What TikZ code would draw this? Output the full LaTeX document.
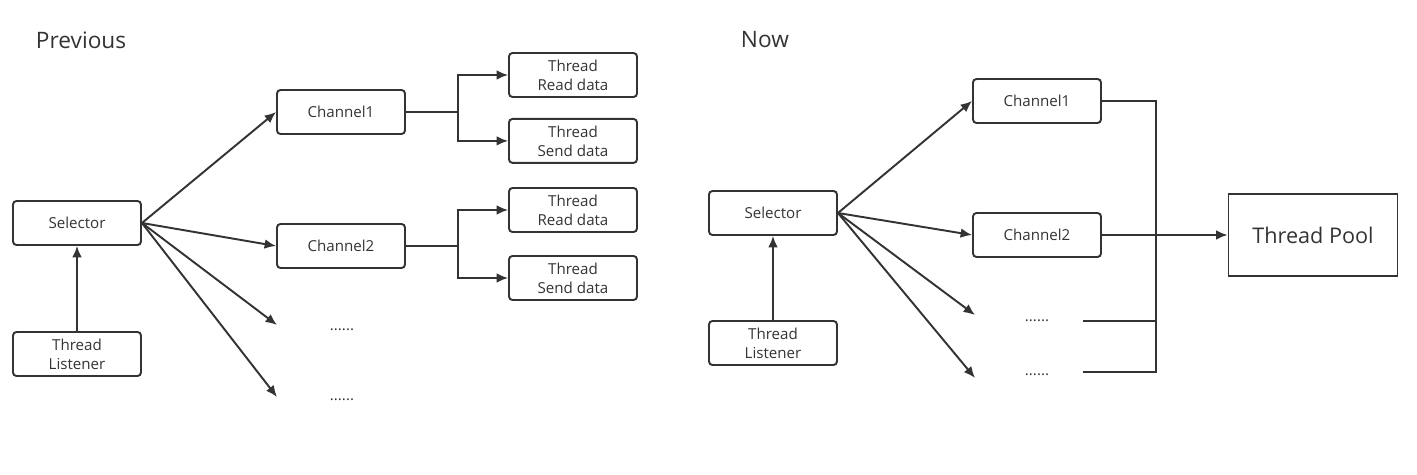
\documentclass[tikz,border=0pt]{standalone}
\usepackage{fontspec}
\setmainfont{Open Sans}
\usetikzlibrary{positioning,arrows.meta}
\definecolor{linegray}{HTML}{333333}

\begin{document}
\begin{tikzpicture}[x=0.02cm ,y=-0.02cm ,-{Latex[length=6.5pt,width=5.5pt]} ,line width=1.1pt ,
draw=linegray ,text=linegray ,
box/.style ={ rectangle ,rounded corners=2pt ,draw ,align=center ,
minimum width =2.56cm ,minimum height =0.88cm ,inner sep=0pt ,
font=\fontsize{8.6}{10.8}\selectfont},
dots/.style ={font=\fontsize{8.6}{10.8}\selectfont},
title/.style ={anchor=west ,inner sep=0pt ,font=\fontsize{12.9}{15}\selectfont}]
\useasboundingbox (0,0) rectangle (1417,475);

% previous
\node[title] (prev) at (35,40) {Previous};
\node[box] (sel1) at (77,223) {Selector};
\node[box] (lis1) at (77,354) {Thread\\Listener};
\node[box] (ch1) at (341,112) {Channel1};
\node[box] (ch2) at (341,246) {Channel2};
\node[dots] (dt1) at (342,330) {......};
\node[dots] (dt2) at (342,400) {......};
\coordinate (e1) at (277,325);
\coordinate (e2) at (277,397);
\node[box] (rd1) at (573,75) {Thread\\Read data};
\node[box] (sd1) [below = 0.4cm of rd1] {Thread\\Send data};
\node[box] (rd2) at (573,210) {Thread\\Read data};
\node[box] (sd2) at (573,278) {Thread\\Send data};
\draw (lis1) -- (sel1);
\draw (sel1.east) -- (ch1.west);
\draw (sel1.east) -- (ch2.west);
\draw (sel1.east) -- (e1);
\draw (sel1.east) -- (e2);
\draw[-] (ch1.east) -- (458,112) coordinate (b1);
\draw (b1) |- (rd1.west);
\draw (b1) |- (sd1.west);
\draw[-] (ch2.east) -- (458,246) coordinate (b2);
\draw (b2) |- (rd2.west);
\draw (b2) |- (sd2.west);

% now
\node[title] (now) at (740,40) {Now};
\node[box] (sel2) at (773,213) {Selector};
\node[box] (lis2) at (773,343) {Thread\\Listener};
\node[box] (rc1) at (1037,101) {Channel1};
\node[box] (rc2) at (1037,235) {Channel2};
\node[dots] (dt3) at (1037,321) {......};
\node[dots] (dt4) at (1037,375) {......};
\coordinate (e3) at (975,315);
\coordinate (e4) at (975,378);
\coordinate (t3) at (1083,321);
\coordinate (t4) at (1083,372);
\coordinate (bus) at (1156,372);
\node[box ,rounded corners=0pt ,minimum width=3.38cm ,minimum height=1.64cm ,
font=\fontsize{12.3}{14}\selectfont] (pool) at (1313,235) {Thread Pool};
\draw (lis2) -- (sel2);
\draw (sel2.east) -- (rc1.west);
\draw (sel2.east) -- (rc2.west);
\draw (sel2.east) -- (e3);
\draw (sel2.east) -- (e4);
\draw[-] (rc1.east) -| (bus) -- (t4);
\draw[-] (t3) -- (t3 -| bus);
\draw (rc2.east) -- (pool.west);
\end{tikzpicture}
\end{document}
